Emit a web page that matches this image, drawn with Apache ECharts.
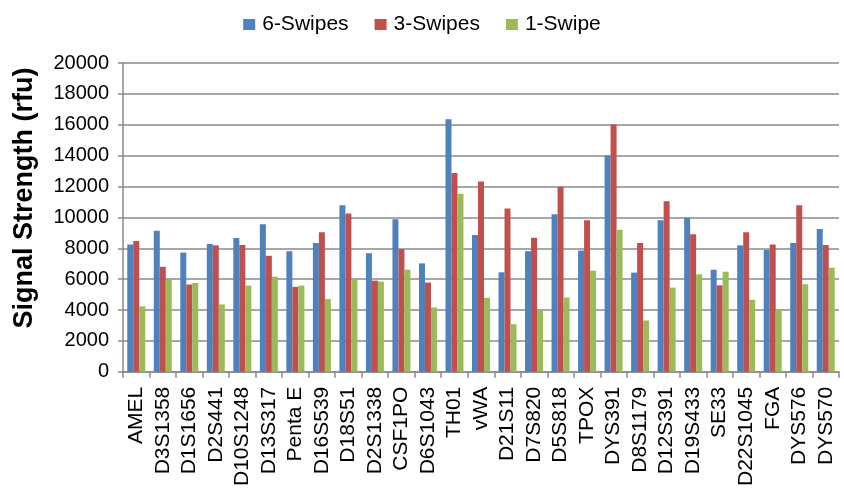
<!DOCTYPE html>
<html>
<head>
<meta charset="utf-8">
<script src="https://cdn.jsdelivr.net/npm/echarts@6/dist/echarts.min.js"></script>
<style>
  html, body { margin: 0; padding: 0; background: #fff; }
  #chart { width: 844px; height: 489px; }
</style>
</head>
<body>
<div id="chart"></div>
<script>
// loci on the x axis
var loci = ['AMEL', 'D3S1358', 'D1S1656', 'D2S441', 'D10S1248', 'D13S317', 'Penta E', 'D16S539', 'D18S51',
  'D2S1338', 'CSF1PO', 'D6S1043', 'TH01', 'vWA', 'D21S11', 'D7S820', 'D5S818', 'TPOX', 'DYS391',
  'D8S1179', 'D12S391', 'D19S433', 'SE33', 'D22S1045', 'FGA', 'DYS576', 'DYS570']

// signal strength (rfu)
var swipes6 = [8240, 9130, 7720, 8280, 8660, 9560, 7810, 8340, 10780,
  7680, 9880, 7020, 16360, 8860, 6440, 7810, 10200, 7850, 14010,
  6420, 9820, 9970, 6610, 8190, 7890, 8340, 9240]
var swipes3 = [8470, 6800, 5650, 8190, 8210, 7510, 5500, 9030, 10250,
  5900, 7940, 5780, 12880, 12320, 10570, 8680, 11980, 9820, 16020,
  8340, 11040, 8900, 5600, 9030, 8240, 10780, 8210]
var swipe1 = [4235, 5950, 5750, 4360, 5580, 6160, 5580, 4710, 6010,
  5840, 6610, 4170, 11530, 4790, 3080, 3960, 4810, 6550, 9200,
  3320, 5450, 6310, 6480, 4660, 4020, 5670, 6740]

var yTicks = { min: 0, max: 20000, step: 2000 }

var font = 'Liberation Sans, Arial, sans-serif'
var gridGray = '#8a8a8a'

function bar(name, data, color) {
  return {
    name: name,
    type: 'bar',
    data: data,
    barWidth: 6,
    barGap: '0%',
    itemStyle: { color: color },
    emphasis: { disabled: true }
  }
}

var chart = echarts.init(document.getElementById('chart'))
chart.setOption({
  animation: false,
  textStyle: { fontFamily: font },
  legend: {
    top: 9,
    left: 'center',
    icon: 'rect',
    itemWidth: 12,
    itemHeight: 11,
    itemGap: 26,
    textStyle: { fontSize: 21, color: '#000', fontFamily: font, padding: [0, 0, 0, 2] }
  },
  // axis title sits a bit above the plot middle, as in the original
  graphic: [{
    type: 'text',
    x: 25,
    y: 198,
    rotation: Math.PI / 2,
    style: {
      text: 'Signal Strength (rfu)',
      font: 'bold 27px ' + font,
      fill: '#000',
      textAlign: 'center',
      textVerticalAlign: 'middle'
    }
  }],
  grid: { left: 123, right: 5, top: 63, bottom: 114, containLabel: false },
  xAxis: {
    type: 'category',
    data: loci,
    axisLine: { lineStyle: { color: gridGray, width: 1.5 } },
    axisTick: { show: true, alignWithLabel: false, length: 6, lineStyle: { color: gridGray, width: 1.5 } },
    axisLabel: { rotate: 90, interval: 0, fontSize: 21, color: '#000', margin: 15 }
  },
  yAxis: {
    type: 'value',
    min: yTicks.min,
    max: yTicks.max,
    interval: yTicks.step,
    axisLine: { show: true, lineStyle: { color: gridGray, width: 1.5 } },
    axisTick: { show: true, length: 5, lineStyle: { color: gridGray, width: 1.5 } },
    axisLabel: { fontSize: 20, color: '#000', margin: 14, formatter: function (v) { return String(v) } },
    splitLine: { lineStyle: { color: gridGray, width: 1.5 } }
  },
  series: [
    bar('6-Swipes', swipes6, '#4F81BD'),
    bar('3-Swipes', swipes3, '#C0504D'),
    bar('1-Swipe', swipe1, '#9BBB59')
  ]
})
</script>
</body>
</html>
